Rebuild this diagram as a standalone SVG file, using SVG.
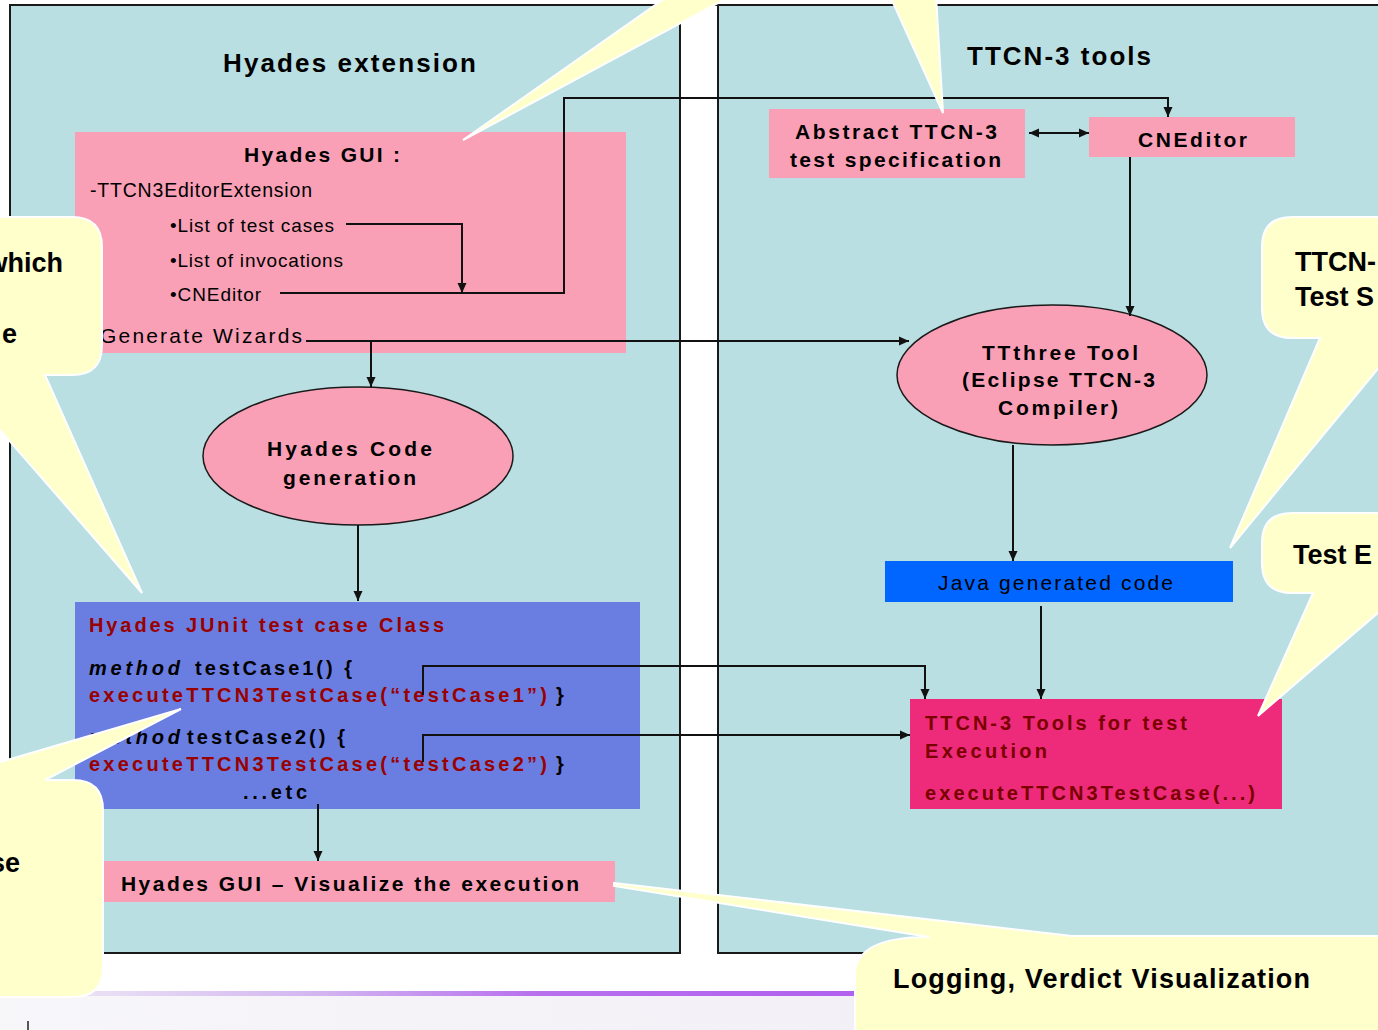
<svg xmlns="http://www.w3.org/2000/svg" width="1378" height="1030" viewBox="0 0 1378 1030">
<defs>
<style>
.panel{fill:#B9DFE2;stroke:#1a1a1a;stroke-width:2}
.pink{fill:#F9A0B7}
.ell{fill:#F9A0B7;stroke:#1a1a1a;stroke-width:1.5}
.t{font-family:"Liberation Sans",Arial,sans-serif;fill:#000}
.b{font-weight:bold}
.red{fill:#990000}
.dred{fill:#7A0000}
.conn{fill:none;stroke:#111;stroke-width:2}
.call{fill:#FFFFCC;stroke:#fff;stroke-width:2}
.ct{font-family:"Liberation Sans",Arial,sans-serif;font-weight:bold;font-size:27px;fill:#000}
</style>
<marker id="ah" viewBox="0 0 10 10" refX="10" refY="5" markerWidth="11" markerHeight="10" markerUnits="userSpaceOnUse" orient="auto-start-reverse">
<path d="M0,0.5 L10,5 L0,9.5 Z" fill="#111"/>
</marker>
<linearGradient id="strip" x1="0" y1="0" x2="1" y2="0">
<stop offset="0" stop-color="#F0ECF6"/>
<stop offset="0.35" stop-color="#D2B4F0"/>
<stop offset="0.6" stop-color="#B870EE"/>
<stop offset="1" stop-color="#B060EE"/>
</linearGradient>
<linearGradient id="floor" x1="0" y1="0" x2="1" y2="0">
<stop offset="0" stop-color="#F7F6F9"/>
<stop offset="0.6" stop-color="#F3F0F7"/>
<stop offset="1" stop-color="#F1DDF5"/>
</linearGradient>
</defs>
<rect x="0" y="0" width="1378" height="1030" fill="#fff"/>
<rect x="0" y="996" width="1378" height="34" fill="url(#floor)"/>
<rect x="30" y="991" width="840" height="5" fill="url(#strip)"/>
<rect x="870" y="991" width="508" height="5" fill="#B060EE"/>
<line x1="28" y1="1021" x2="28" y2="1030" stroke="#222" stroke-width="1.5"/>

<g id="panel-hyades">
<rect class="panel" x="10" y="5" width="670" height="948"/>
<text class="t b" x="223" y="72" font-size="26" textLength="253">Hyades extension</text>
</g>
<g id="panel-ttcn">
<rect class="panel" x="718" y="5" width="700" height="948"/>
<text class="t b" x="967" y="65" font-size="26" textLength="184">TTCN-3 tools</text>
</g>
<line x1="680" y1="5" x2="718" y2="5" stroke="#1a1a1a" stroke-width="2"/>

<g id="hyades-gui">
<rect class="pink" x="75" y="132" width="551" height="221"/>
<text class="t b" x="244" y="162" font-size="21" textLength="156">Hyades GUI :</text>
<text class="t" x="90" y="197" font-size="19.5" textLength="222">-TTCN3EditorExtension</text>
<text class="t" x="170" y="232" font-size="19" textLength="164">•List of test cases</text>
<text class="t" x="170" y="267" font-size="19" textLength="173">•List of invocations</text>
<text class="t" x="170" y="301" font-size="19" textLength="91">•CNEditor</text>
<text class="t" x="100" y="343" font-size="21" textLength="202">Generate Wizards</text>
</g>

<g id="hyades-codegen">
<ellipse class="ell" cx="358" cy="456" rx="155" ry="69"/>
<text class="t b" x="267" y="456" font-size="21" textLength="165">Hyades Code</text>
<text class="t b" x="283" y="485" font-size="21" textLength="133">generation</text>
</g>

<g id="junit-class">
<rect x="75" y="602" width="565" height="207" fill="#6A7EE2"/>
<text class="t b red" x="89" y="632" font-size="20" textLength="355">Hyades JUnit test case Class</text>
<text class="t b" x="89" y="675" font-size="20" font-style="italic" textLength="91">method</text>
<text class="t b" x="195" y="675" font-size="20" textLength="157">testCase1() {</text>
<text class="t b red" x="89" y="702" font-size="20" textLength="458">executeTTCN3TestCase(“testCase1”)</text>
<text class="t b" x="556" y="702" font-size="20">}</text>
<text class="t b" x="89" y="744" font-size="20" font-style="italic" textLength="91">method</text>
<text class="t b" x="187" y="744" font-size="20" textLength="158">testCase2() {</text>
<text class="t b red" x="89" y="771" font-size="20" textLength="458">executeTTCN3TestCase(“testCase2”)</text>
<text class="t b" x="556" y="771" font-size="20">}</text>
<text class="t b" x="243" y="799" font-size="20" textLength="64">...etc</text>
</g>

<g id="hyades-gui-visualize">
<rect class="pink" x="103" y="861" width="512" height="41"/>
<text class="t b" x="121" y="891" font-size="21" textLength="458">Hyades GUI – Visualize the execution</text>
</g>

<g id="abstract-spec">
<rect class="pink" x="769" y="109" width="256" height="69"/>
<text class="t b" x="795" y="139" font-size="21" textLength="202">Abstract TTCN-3</text>
<text class="t b" x="790" y="167" font-size="21" textLength="211">test specification</text>
</g>

<g id="cneditor">
<rect class="pink" x="1089" y="117" width="206" height="40"/>
<text class="t b" x="1138" y="147" font-size="21" textLength="109">CNEditor</text>
</g>

<g id="ttthree">
<ellipse class="ell" cx="1052" cy="375" rx="155" ry="70"/>
<text class="t b" x="982" y="360" font-size="21" textLength="156">TTthree Tool</text>
<text class="t b" x="962" y="387" font-size="21" textLength="193">(Eclipse TTCN-3</text>
<text class="t b" x="998" y="415" font-size="21" textLength="120">Compiler)</text>
</g>

<g id="java-code">
<rect x="885" y="561" width="348" height="41" fill="#0066FF"/>
<text class="t" x="938" y="590" font-size="21" fill="#111" textLength="235">Java generated code</text>
</g>

<g id="ttcn-exec">
<rect x="910" y="699" width="372" height="110" fill="#EE2A7B"/>
<text class="t b dred" x="925" y="730" font-size="20" textLength="262">TTCN-3 Tools for test</text>
<text class="t b dred" x="925" y="758" font-size="20" textLength="122">Execution</text>
<text class="t b dred" x="925" y="800" font-size="20" textLength="330">executeTTCN3TestCase(...)</text>
</g>

<g id="connectors">
<path class="conn" d="M346,224 H462 V293" marker-end="url(#ah)"/>
<path class="conn" d="M280,293 H564 V98 H1168 V117" marker-end="url(#ah)"/>
<path class="conn" d="M306,341 H909" marker-end="url(#ah)"/>
<path class="conn" d="M371,341 V387" marker-end="url(#ah)"/>
<path class="conn" d="M358,525 V601" marker-end="url(#ah)"/>
<path class="conn" d="M1029,133 H1089" marker-start="url(#ah)" marker-end="url(#ah)"/>
<path class="conn" d="M1130,157 V316" marker-end="url(#ah)"/>
<path class="conn" d="M1013,445 V561" marker-end="url(#ah)"/>
<path class="conn" d="M1041,606 V699" marker-end="url(#ah)"/>
<path class="conn" d="M423,695 V666 H925 V699" marker-end="url(#ah)"/>
<path class="conn" d="M423,762 V735 H910" marker-end="url(#ah)"/>
<path class="conn" d="M318,804 V861" marker-end="url(#ah)"/>
</g>

<g id="callout-top-left">
<path class="call" d="M668,-4 L463,140 L731,-4 Z"/>
</g>
<g id="callout-top-right">
<path class="call" d="M890,-4 L943,113 L936,-4 Z"/>
</g>
<g id="callout-left">
<path class="call" d="M-20,217 H72 Q102,217 102,247 V345 Q102,375 72,375 H45 L142,593 L-20,407 Z"/>
<text class="ct" x="63" y="272" text-anchor="end">which</text>
<text class="ct" x="17" y="343" text-anchor="end">e</text>
</g>
<g id="callout-bottom-left">
<path class="call" d="M-20,768 L181,709 L45,780 H73 Q103,780 103,810 V967 Q103,997 73,997 H-20 Z"/>
<text class="ct" x="20" y="872" text-anchor="end">se</text>
</g>
<g id="callout-right-top">
<path class="call" d="M1400,217 H1292 Q1262,217 1262,247 V308 Q1262,338 1292,338 H1320 L1230,548 L1400,342 Z"/>
<text class="ct" x="1295" y="271">TTCN-</text>
<text class="ct" x="1295" y="306">Test S</text>
</g>
<g id="callout-right-exec">
<path class="call" d="M1400,513 H1292 Q1262,513 1262,543 V563 Q1262,593 1292,593 H1313 L1258,716 L1400,594 Z"/>
<text class="ct" x="1293" y="564">Test E</text>
</g>
<g id="callout-logging">
<path class="call" d="M614,883 L1072,936 H1400 V1040 H855 V975 Q855,937 929,937 L614,886 Z"/>
<text class="ct" x="893" y="988" textLength="417">Logging, Verdict Visualization</text>
</g>
</svg>
